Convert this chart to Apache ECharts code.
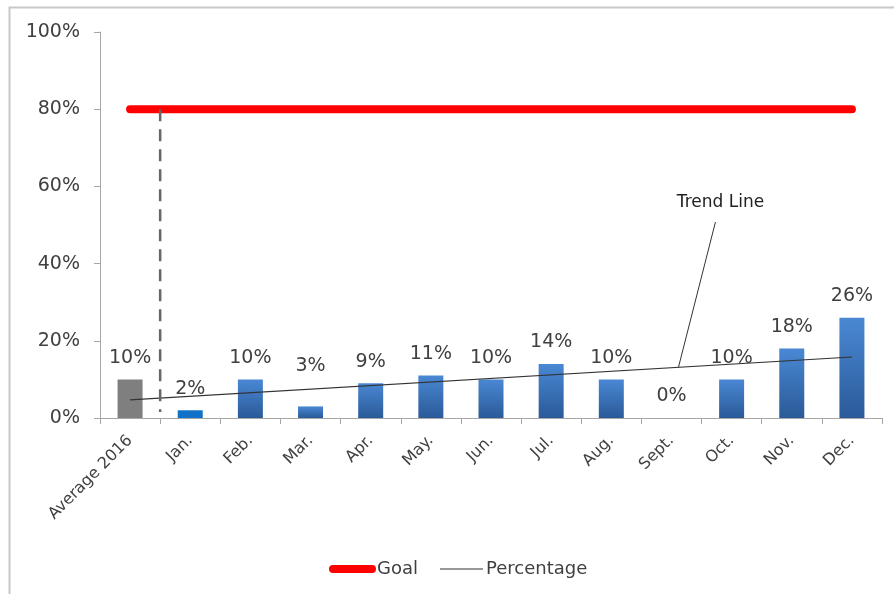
<!DOCTYPE html>
<html>
<head>
    <meta charset="UTF-8">
    <title></title>
    <style>
        html, body { margin: 0; padding: 0; background: #fff; }
    </style>
</head>
<body>
<div id="main" style="width: 894px;height: 594px;"></div>
<script src="https://cdn.jsdelivr.net/npm/echarts@6/dist/echarts.min.js"></script>
<script>
    // 数据
    var categories = ['Average 2016', 'Jan.', 'Feb.', 'Mar.', 'Apr.', 'May.', 'Jun.', 'Jul.', 'Aug.', 'Sept.', 'Oct.', 'Nov.', 'Dec.'];
    var percentValues = [10, 2, 10, 3, 9, 11, 10, 14, 10, 0, 10, 18, 26];
    var goalValues = [80, 80, 80, 80, 80, 80, 80, 80, 80, 80, 80, 80, 80];
    // trend line: only the two ends
    var trendValues = [4.7, null, null, null, null, null, null, null, null, null, null, null, 15.8];
    var yTicks = [0, 20, 40, 60, 80, 100];

    var txt = '#404040';
    var font = 'DejaVu Sans';

    var barGrad = new echarts.graphic.LinearGradient(0, 0, 0, 1, [
        {offset: 0, color: '#4a88d4'},
        {offset: 1, color: '#2a5a98'}
    ]);

    var barData = percentValues.map(function (v, i) {
        var item = {value: v};
        if (i === 0) item.itemStyle = {color: '#7f7f7f'};
        if (i === 1) item.itemStyle = {color: '#1170c8'};
        if (i === 3) item.label = {offset: [0, -19]}; // label moved up in original
        return item;
    });

    var myChart = echarts.init(document.getElementById('main'));
    var option = {
        animation: false,
        grid: {left: 100, right: 12, top: 32, bottom: 176},
        legend: {
            left: 324,
            top: 555,
            itemWidth: 47,
            itemHeight: 8,
            itemGap: 20,
            textStyle: {color: txt, fontSize: 18, fontFamily: font, padding: [0, 0, 0, -4]},
            data: [
                {name: 'Goal', icon: 'path://M4,0 L43,0 A4,4 0 0 1 43,8 L4,8 A4,4 0 0 1 4,0 Z'},
                {name: 'Percentage', icon: 'path://M0,0 M47,8 M2,3.4 L45,3.4 L45,4.6 L2,4.6 Z'}
            ]
        },
        xAxis: {
            type: 'category',
            data: categories,
            axisLine: {lineStyle: {color: '#a6a6a6'}},
            axisTick: {show: true, length: 6, lineStyle: {color: '#a6a6a6'}},
            axisLabel: {rotate: 45, margin: 20, color: txt, fontSize: 16, fontFamily: font, interval: 0}
        },
        yAxis: {
            type: 'value',
            min: 0,
            max: 100,
            interval: 20,
            axisLine: {show: true, lineStyle: {color: '#a6a6a6'}},
            axisTick: {show: true, length: 6, lineStyle: {color: '#a6a6a6'}},
            splitLine: {show: false},
            axisLabel: {
                color: txt, fontSize: 19, fontFamily: font, margin: 20,
                formatter: function (v) { return yTicks.indexOf(v) >= 0 ? v + '%' : ''; }
            }
        },
        series: [
            {
                name: 'Bars',
                type: 'bar',
                data: barData,
                barWidth: 25,
                itemStyle: {color: barGrad},
                label: {
                    show: true,
                    position: 'top',
                    distance: 12,
                    color: txt,
                    fontSize: 19,
                    fontFamily: font,
                    formatter: '{c}%'
                },
                z: 2
            },
            {
                name: 'Goal',
                type: 'line',
                data: goalValues,
                symbol: 'none',
                lineStyle: {color: '#ff0000', width: 8, cap: 'round'},
                itemStyle: {color: '#ff0000'},
                z: 3
            },
            {
                name: 'Percentage',
                type: 'line',
                data: trendValues,
                connectNulls: true,
                symbol: 'none',
                lineStyle: {color: '#333333', width: 1.2},
                itemStyle: {color: '#333333'},
                z: 4
            }
        ]
    };
    myChart.setOption(option);

    // dashed divider between average and months, trend line callout
    var p0 = myChart.convertToPixel({seriesIndex: 0}, [0, 80]);
    var p1 = myChart.convertToPixel({seriesIndex: 0}, [1, 0]);
    var xDiv = (p0[0] + p1[0]) / 2;
    var sept = myChart.convertToPixel({seriesIndex: 0}, [9, 0]);
    var tA = myChart.convertToPixel({seriesIndex: 2}, [0, trendValues[0]]);
    var tB = myChart.convertToPixel({seriesIndex: 2}, [12, trendValues[12]]);
    var calloutX = sept[0] + 7;
    var calloutY = tA[1] + (tB[1] - tA[1]) * (calloutX - tA[0]) / (tB[0] - tA[0]);

    myChart.setOption({
        graphic: [
            {
                type: 'rect',
                shape: {x: 9.5, y: 7.5, width: 1000, height: 1000},
                style: {fill: 'none', stroke: '#c8c8c8', lineWidth: 2},
                silent: true
            },
            {
                type: 'line',
                shape: {x1: xDiv, y1: p0[1], x2: xDiv, y2: p1[1] - 6},
                style: {stroke: '#666666', lineWidth: 2.5, lineDash: [12, 8]},
                z: 5
            },
            {
                type: 'line',
                shape: {x1: calloutX + 37, y1: 222, x2: calloutX, y2: calloutY},
                style: {stroke: '#333333', lineWidth: 1},
                z: 5
            },
            {
                type: 'text',
                style: {
                    text: 'Trend Line', x: calloutX + 42, y: 203,
                    align: 'center', verticalAlign: 'middle',
                    fill: '#222222', fontSize: 17, fontFamily: font
                },
                z: 5
            }
        ]
    });
</script>
</body>
</html>
